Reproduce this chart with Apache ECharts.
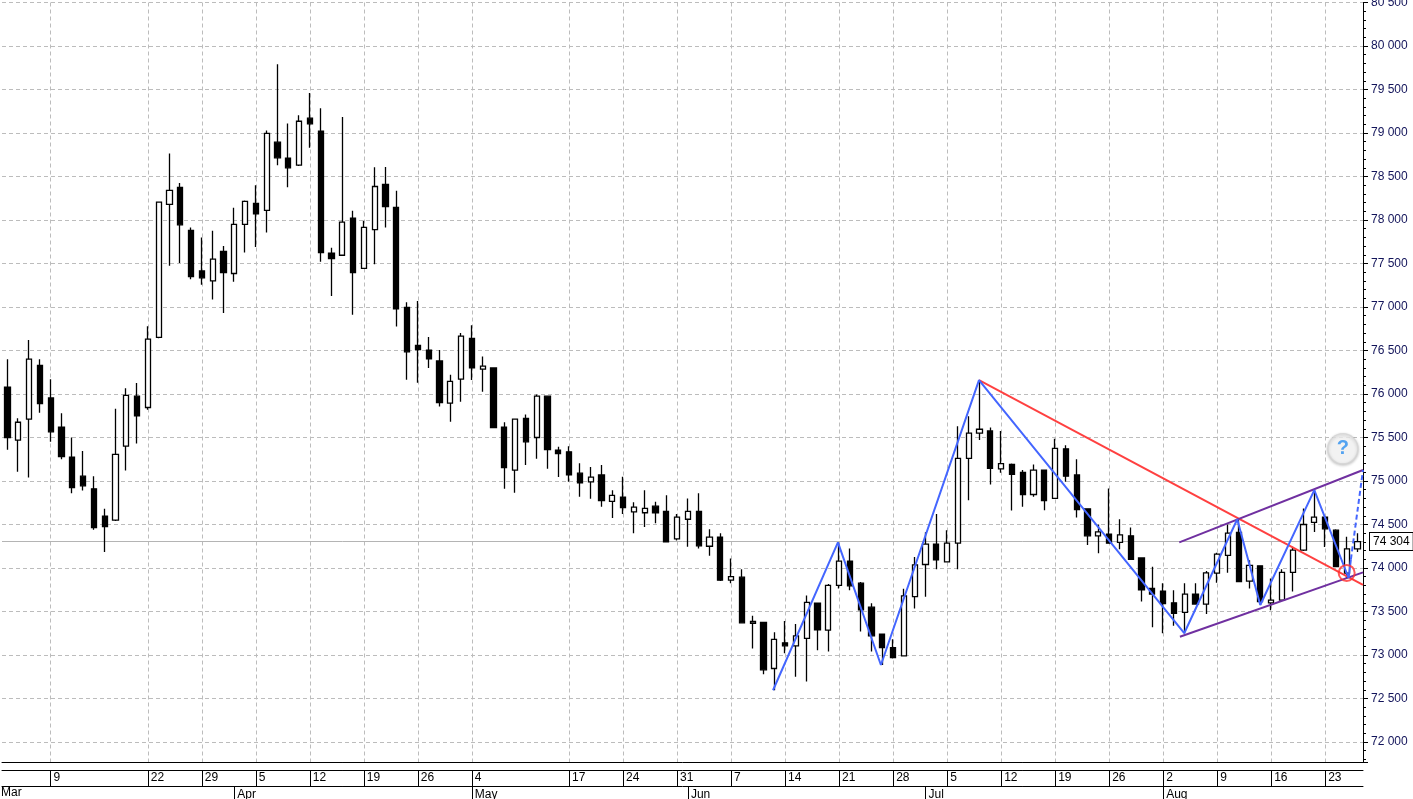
<!DOCTYPE html>
<html><head><meta charset="utf-8">
<script src="https://cdn.jsdelivr.net/npm/echarts@6/dist/echarts.min.js"></script>
<style>html,body{margin:0;padding:0;background:#fff}#c{width:1413px;height:799px}</style>
</head><body><div id="c"></div>
<script>
// ---- categories (trading days) ----
const dates = [
'03-02','03-03','03-04','03-05','03-09','03-10','03-11','03-12','03-15','03-16','03-17','03-18','03-19','03-22','03-23','03-24','03-25','03-26','03-29','03-30','03-31',
'04-01','04-02','04-05','04-06','04-07','04-08','04-09','04-12','04-13','04-14','04-15','04-16','04-19','04-20','04-21','04-22','04-23','04-26','04-27','04-28','04-29','04-30',
'05-04','05-05','05-06','05-07','05-10','05-11','05-12','05-13','05-14','05-17','05-18','05-19','05-20','05-21','05-24','05-25','05-26','05-27','05-28','05-31',
'06-01','06-02','06-03','06-04','06-07','06-08','06-09','06-10','06-11','06-14','06-15','06-16','06-17','06-18','06-21','06-22','06-23','06-24','06-25','06-28','06-29','06-30',
'07-01','07-02','07-05','07-06','07-07','07-08','07-09','07-12','07-13','07-14','07-15','07-16','07-19','07-20','07-21','07-22','07-23','07-26','07-27','07-28','07-29','07-30',
'08-02','08-03','08-04','08-05','08-06','08-09','08-10','08-11','08-12','08-13','08-16','08-17','08-18','08-19','08-20','08-23','08-24','08-25','08-26'];

// ---- OHLC values ----
const open = [
76080,75470,75710,76330,75955,75620,75275,75055,74910,74595,74550,75400,75975,75845,76650,78180,78375,77880,77415,77300,77640,
77385,77950,78190,78110,78895,78710,78630,79170,79020,77620,77595,78020,77445,77890,78410,78145,76995,76560,76505,76380,75895,76170,
76640,76285,76300,75620,75125,75720,75500,75975,75355,75335,75090,74990,75070,74765,74815,74645,74635,74710,74650,74335,
74560,74650,74250,74355,73860,73895,73365,73375,72845,73140,73105,73190,73595,73285,73800,74080,73825,73550,73240,73085,72990,73670,
74040,74275,74070,74285,75260,75550,75575,75140,75190,75100,74845,75125,74800,75370,75070,74680,74370,74390,74295,74370,74115,73765,
73735,73600,73490,73700,73585,73940,74145,74410,73850,74025,73600,73630,73950,74205,74525,74585,74435,73940,74220];
const close = [
75500,75675,76400,75890,75565,75280,74925,74945,74465,74475,75305,75985,75750,76630,78205,78340,77945,77350,77335,77550,77395,
77950,78215,78070,78995,78715,78600,79135,79105,77625,77555,77975,77395,77915,78385,78155,76980,76485,76510,76405,75900,76145,76665,
76300,76320,75615,75155,75710,75450,75975,75360,75315,75070,74980,75045,74775,74835,74695,74700,74685,74635,74300,74585,
74650,74255,74355,73860,73900,73370,73385,72830,73180,73105,73220,73605,73290,73800,74080,73795,73520,73220,73085,72970,73680,74035,
74275,74095,74285,75260,75550,75595,75145,75200,75075,74845,75125,74775,75375,75055,74670,74370,74415,74285,74380,74100,73750,73700,
73590,73480,73700,73585,73945,74160,74400,73845,74030,73615,73630,73950,74205,74500,74585,74450,74015,74220,74304];
const low = [
75360,75105,75040,75785,75450,75250,74860,74890,74440,74185,74540,75120,75430,75820,76640,77475,77505,77320,77255,77085,76930,
77290,77625,77690,77855,78630,78375,78620,78830,77520,77125,77590,76910,77440,77490,77915,76775,76165,76130,76300,75855,75680,75910,
76160,76025,75610,74910,74865,75185,75255,75140,75045,74990,74820,74795,74705,74575,74620,74400,74470,74515,74295,74315,
74245,74225,74140,73850,73825,73365,73075,72780,72595,73020,72750,72695,73055,73040,73765,73745,73270,73040,72885,72960,72985,73535,
73670,73985,74065,73985,74780,75470,74960,75095,74660,74705,74820,74665,74795,74990,74580,74265,74170,74280,74215,74095,73615,73320,
73250,73335,73250,73580,73470,73830,73945,73840,73765,73575,73515,73625,73730,74195,74415,74240,74010,73880,74185];
const high = [
76400,75720,76620,76400,76170,75780,75500,75345,75055,74680,75830,76065,76125,76780,78210,78765,78425,77915,77800,77875,77700,
78140,78225,78400,79030,79790,79110,79205,79460,79285,77680,79185,78105,77990,78605,78610,78335,77055,77070,76655,76505,76220,76700,
76790,76430,76305,75675,75715,75765,75995,75980,75395,75400,75205,75160,75185,74895,75050,74755,74895,74760,74835,74620,
74800,74860,74445,74400,74110,73985,73450,73380,73260,73390,73355,73685,73600,73815,74290,74225,73840,73595,73245,73180,73760,74125,
74410,74620,74435,75630,75745,76160,75615,75575,75200,75125,75190,75130,75485,75410,75250,74685,74500,74915,74560,74465,74120,74015,
73825,73745,73825,73825,73965,74175,74500,74560,74090,74030,73880,73985,74245,74685,74895,74590,74445,74360,74400];

// ---- axis labels ----
const weekLabelDates = ['03-09','03-22','03-29','04-05','04-12','04-19','04-26','05-04','05-17','05-24','05-31','06-07','06-14','06-21','06-28','07-05','07-12','07-19','07-26','08-02','08-09','08-16','08-23'];
const monthLabelDates = ['04-01','05-04','06-01','07-01','08-02'];
const monthNames = ['Apr','May','Jun','Jul','Aug'];
const firstMonthName = 'Mar';
const lastPrice = 74304;

// ---- drawn annotations (x in trading-day index units, y in price) ----
const zigzag = [[70.88,72595],[76.89,74295],[80.87,72885],[89.95,76160],[108.95,73250],[113.86,74560],[115.99,73575],[120.99,74895],[124.17,73885],[124.38,74100]];
const zigzagProjection = [[124.38,74100],[125.5,75126]];
const redLine = [[89.95,76160],[125.5,73805]];
const channelUpper = [[108.49,74295],[125.5,75126]];
const channelLower = [[108.55,73210],[125.5,73950]];
const circleMark = [[123.99,73943]];
const questionMark = [[123.64,75370]];

const weekSet = new Set(weekLabelDates.map(d => dates.indexOf(d)));
const monthMap = {};
monthLabelDates.forEach((d, j) => { monthMap[dates.indexOf(d)] = monthNames[j]; });
const fmt = v => String(Math.round(v)).replace(/\B(?=(\d{3})+(?!\d))/g, ' ');
const FONT = 'Liberation Sans, Arial, sans-serif';
const GRID_COLOR = '#bcbcbc';

const chart = echarts.init(document.getElementById('c'), null, {renderer: 'canvas'});
chart.setOption({
  animation: false,
  backgroundColor: '#fff',
  textStyle: {fontFamily: FONT},
  grid: {left: 2, right: 50, top: 2.5, bottom: 37, containLabel: false, outerBoundsMode: 'none'},
  xAxis: [
    {type: 'category', data: dates, boundaryGap: true, position: 'bottom',
     axisLine: {show: true, onZero: false, lineStyle: {color: '#000', width: 1}},
     axisTick: {show: false}, axisLabel: {show: false},
     splitLine: {show: true, alignWithLabel: true, interval: (i) => weekSet.has(i),
                 lineStyle: {color: GRID_COLOR, type: [4, 3], width: 1}}},
    {type: 'category', data: dates, boundaryGap: true, position: 'bottom', offset: 8,
     axisLine: {show: true, onZero: false, lineStyle: {color: '#000', width: 1}},
     axisTick: {show: true, alignWithLabel: true, interval: (i) => weekSet.has(i), length: 16, lineStyle: {color: '#000', width: 1}},
     axisLabel: {show: true, interval: (i) => weekSet.has(i), formatter: (v) => String(parseInt(v.slice(3), 10)),
                 align: 'left', padding: [0, 0, 0, 3], margin: 2, color: '#000', fontSize: 12, fontFamily: FONT},
     splitLine: {show: false}},
    {type: 'category', data: dates, boundaryGap: true, position: 'bottom', offset: 24,
     axisLine: {show: true, onZero: false, lineStyle: {color: '#000', width: 1}},
     axisTick: {show: true, alignWithLabel: true, interval: (i) => (i in monthMap), length: 16, lineStyle: {color: '#000', width: 1}},
     axisLabel: {show: true, interval: (i) => (i in monthMap), formatter: (v, i) => monthMap[i] || '',
                 align: 'left', padding: [0, 0, 0, 3], margin: 3, color: '#000', fontSize: 12, fontFamily: FONT},
     splitLine: {show: false}},
    {type: 'value', min: -0.5, max: dates.length - 0.5, show: false, position: 'top'}
  ],
  yAxis: {
    type: 'value', position: 'right', min: 71770, max: 80500, minInterval: 500, maxInterval: 500, splitNumber: 17,
    axisLine: {show: true, onZero: false, lineStyle: {color: '#000', width: 1}},
    axisTick: {show: true, length: 5, lineStyle: {color: '#000'}},
    minorTick: {show: true, splitNumber: 5, length: 3, lineStyle: {color: '#000'}},
    axisLabel: {margin: 8, color: '#12145a', fontSize: 12, fontFamily: FONT,
                formatter: (v) => (Math.round(v) % 500 === 0 ? fmt(v) : '')},
    splitLine: {show: true, lineStyle: {color: GRID_COLOR, type: [4, 3], width: 1}}
  },
  graphic: [{type: 'text', left: 1, top: 787, silent: true,
             style: {text: firstMonthName, fill: '#000', font: '12px ' + FONT}}],
  series: [
    {type: 'candlestick', xAxisIndex: 0, yAxisIndex: 0, z: 3,
     data: dates.map((d, i) => [open[i], close[i], low[i], high[i]]),
     barWidth: 5.7,
     itemStyle: {color: '#fff', color0: '#000', borderColor: '#000', borderColor0: '#000', borderColorDoji: '#000', borderWidth: 1.3},
     markLine: {silent: true, z: 1, symbol: ['none', 'none'], animation: false,
       lineStyle: {color: '#b4b4b4', width: 1, type: 'solid'},
       label: {show: true, position: 'end', distance: 7, formatter: () => fmt(lastPrice), color: '#000',
               backgroundColor: '#fff', borderColor: '#000', borderWidth: 1, padding: [3, 3, 2, 3],
               fontSize: 12, fontFamily: FONT},
       data: [{yAxis: lastPrice}]}},
    {type: 'line', xAxisIndex: 3, yAxisIndex: 0, data: redLine, symbol: 'none', z: 5,
     lineStyle: {color: '#ff4040', width: 2}},
    {type: 'line', xAxisIndex: 3, yAxisIndex: 0, data: channelUpper, symbol: 'none', z: 5,
     lineStyle: {color: '#7030a0', width: 2}},
    {type: 'line', xAxisIndex: 3, yAxisIndex: 0, data: channelLower, symbol: 'none', z: 5,
     lineStyle: {color: '#7030a0', width: 2}},
    {type: 'line', xAxisIndex: 3, yAxisIndex: 0, data: zigzag, symbol: 'none', z: 6,
     lineStyle: {color: '#4466ff', width: 2}},
    {type: 'line', xAxisIndex: 3, yAxisIndex: 0, data: zigzagProjection, symbol: 'none', z: 6,
     lineStyle: {color: '#4466ff', width: 2, type: [5, 3]}},
    {type: 'scatter', xAxisIndex: 3, yAxisIndex: 0, data: circleMark, symbol: 'circle', symbolSize: 16, z: 7,
     itemStyle: {color: 'rgba(0,0,0,0)', borderColor: '#ff3030', borderWidth: 2}},
    {type: 'scatter', xAxisIndex: 3, yAxisIndex: 0, data: questionMark, symbol: 'circle', symbolSize: 30, z: 7,
     itemStyle: {color: '#fbfbfb', borderColor: '#d4d4d4', borderWidth: 1.5, shadowBlur: 3, shadowColor: 'rgba(0,0,0,0.25)', shadowOffsetY: 1},
     label: {show: true, position: 'inside', formatter: '?', color: '#2b8ef0', fontSize: 20, fontWeight: 'bold', fontFamily: FONT}}
  ]
});
</script>
</body></html>
